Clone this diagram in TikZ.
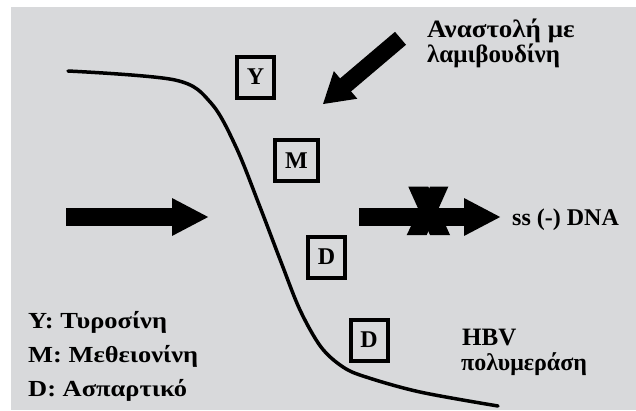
\documentclass[tikz,border=0pt]{standalone}
\usepackage{fontspec}
\setmainfont{Liberation Serif}
\newfontfamily\legfont[FakeStretch=1.15]{Liberation Serif}
\newfontfamily\topfont[FakeStretch=1.08]{Liberation Serif}
\usetikzlibrary{arrows.meta}
\definecolor{bg}{HTML}{D8D9DB}
\begin{document}
\begin{tikzpicture}[x=1pt,y=-1pt,
  boxlet/.style={draw,line width=4pt,minimum width=37pt,minimum height=41pt,inner sep=0pt,font=\bfseries\fontsize{24}{26}\selectfont},
  txt/.style={anchor=base west,inner sep=0pt,font=\bfseries\fontsize{25}{28}\selectfont},
  legend/.style={anchor=base west,inner sep=0pt,font=\legfont\bfseries\fontsize{23}{26}\selectfont},
  bigarrow/.style={line width=18pt,-{Triangle[length=37pt,width=35pt]}},
  diagarrow/.style={line width=17pt,-{Triangle[length=30pt,width=34pt]}}]
\useasboundingbox (0,0) rectangle (636,410);
\fill[white] (0,0) rectangle (636,410);
\fill[bg] (11,7) rectangle (636,410);
% curve
\draw[line width=3.5pt,line cap=round] plot[smooth,tension=0.55] coordinates
 {(68,71) (175,80) (211,103) (236,147) (260,207) (281,262) (300,310) (321,347) (343,367) (366,377) (420,392) (498,406)};
% boxes
\node[boxlet] (Y) at (255.5,77) {Y};
\node[boxlet,minimum width=43pt] (M) at (296.5,160.5) {M};
\node[boxlet] (D1) at (326.5,257) {D};
\node[boxlet] (D2) at (369,340) {D};
% arrows
\coordinate (la1) at (66,217);
\coordinate (la2) at (209,217);
\coordinate (ra1) at (359,217);
\coordinate (ra2) at (501,217);
\coordinate (da1) at (400.5,38.3);
\coordinate (da2) at (322.7,104.3);
\draw[bigarrow] (la1) -- (la2);
\draw[bigarrow] (ra1) -- (ra2);
\draw[diagarrow] (da1) -- (da2);
% X mark
\fill (408.3,186.7) -- (428.3,186.7) -- (450,235) -- (430,235) -- cycle;
\fill (430,186.7) -- (448.3,186.7) -- (426.7,235) -- (406.7,235) -- cycle;
% texts
\node[txt,font=\topfont\bfseries\fontsize{25}{28}\selectfont] (inh1) at (427,37) {Αναστολή με};
\node[txt] (inh2) at (427,62) {λαμιβουδίνη};
\node[txt,font=\bfseries\fontsize{24}{27}\selectfont] (dna) at (512,225) {ss (-) DNA};
\node[txt] (hbv) at (462,345) {HBV};
\node[txt,font=\bfseries\fontsize{24}{27}\selectfont] (pol) at (461,370) {πολυμεράση};
\node[legend] (l1) at (28,328) {Y: Τυροσίνη};
\node[legend] (l2) at (28,362) {M: Μεθειονίνη};
\node[legend] (l3) at (28,396) {D: Ασπαρτικό};
\end{tikzpicture}
\end{document}
